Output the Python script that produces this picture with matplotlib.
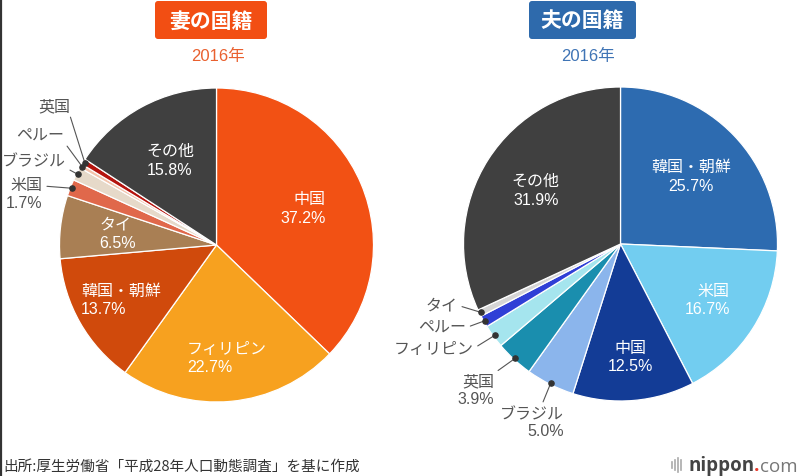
import matplotlib
matplotlib.use('Agg')
import matplotlib.pyplot as plt
from matplotlib.patches import FancyBboxPatch
import numpy as np

plt.rcParams['font.family'] = ['Liberation Sans', 'Noto Sans CJK JP', 'DejaVu Sans']

# ---------------- data ----------------
wife_labels = ['中国', 'フィリピン', '韓国・朝鮮', 'タイ', '米国', 'ブラジル', 'ペルー', '英国', 'その他']
wife_values = [37.2, 22.7, 13.7, 6.5, 1.7, 1.4, 0.4, 0.6, 15.8]

husband_labels = ['韓国・朝鮮', '米国', '中国', 'ブラジル', '英国', 'フィリピン', 'ペルー', 'タイ', 'その他']
husband_values = [25.7, 16.7, 12.5, 5.0, 3.9, 2.4, 1.2, 0.7, 31.9]

wife_title = '妻の国籍'
husband_title = '夫の国籍'
year_text = '2016年'
source_text = '出所:厚生労働省「平成28年人口動態調査」を基に作成'

# ---------------- styles ----------------
wife_colors = ['#f25114', '#f7a11f', '#d04a0c', '#a97f54', '#e0684b',
               '#e6d9c9', '#f3c3ab', '#b5140e', '#404040']
husband_colors = ['#2d6bb0', '#72cdf0', '#133c96', '#8bb5ec', '#1a8eae',
                  '#a5e5ee', '#2f3fd6', '#d5d5d5', '#404040']

# inside labels: (radius fraction, multialignment)
wife_inside = {'中国': (0.60, 'right'), 'フィリピン': (0.72, 'left'),
               '韓国・朝鮮': (0.70, 'left'), 'タイ': (0.635, 'left'),
               'その他': (0.615, 'left')}
husband_inside = {'韓国・朝鮮': (0.625, 'center'), '米国': (0.655, 'right'),
                  '中国': (0.72, 'center'), 'その他': (0.64, 'center')}
# outside labels: (dx px, dy px, ha, va, relpos, show pct)
wife_outside = {'英国': (-14, 57, 'right', 'center', (0.95, 0.0), False),
                'ペルー': (-18, 32, 'right', 'center', (1.0, 0.0), False),
                'ブラジル': (-12, 14, 'right', 'center', (1.0, 0.0), False),
                '米国': (-29, 11, 'right', 'top', (1.0, 0.73), True)}
husband_outside = {'タイ': (-23, 7, 'right', 'center', (1.0, 0.5), False),
                   'ペルー': (-19, -7, 'right', 'center', (1.0, 0.5), False),
                   'フィリピン': (-21, -13, 'right', 'center', (1.0, 0.5), False),
                   '英国': (-21, -15, 'right', 'top', (1.0, 1.0), True),
                   'ブラジル': (13, -23, 'right', 'top', (0.65, 1.0), True)}

W, H = 799, 477
fig = plt.figure(figsize=(W / 100, H / 100), dpi=100)
fig.patch.set_facecolor('white')

# background overlay axes in pixel coordinates
bg = fig.add_axes([0, 0, 1, 1])
bg.set_xlim(0, W)
bg.set_ylim(H, 0)
bg.axis('off')


def draw_pie(cx, cy, r, values, labels, colors, inside, outside):
    ax = fig.add_axes([(cx - r) / W, (H - cy - r) / H, 2 * r / W, 2 * r / H])
    ax.pie(values, colors=colors, startangle=90, counterclock=False, radius=1,
           wedgeprops=dict(edgecolor='white', linewidth=0.9))
    ax.set_xlim(-1, 1)
    ax.set_ylim(-1, 1)
    ax.set_aspect('equal')
    ax.axis('off')
    total = float(sum(values))
    cum = np.cumsum([0] + list(values))
    for i, (lab, v) in enumerate(zip(labels, values)):
        mid = (cum[i] + cum[i + 1]) / 2.0
        th = np.deg2rad(90 - 360 * mid / total)
        pct = f'{v:.1f}%'
        if lab in inside:
            fr, ma = inside[lab]
            ax.text(fr * np.cos(th), fr * np.sin(th), f'{lab}\n{pct}',
                    ha='center', va='center', multialignment=ma,
                    color='white', fontsize=11.5, linespacing=1.3)
        elif lab in outside:
            dx, dy, ha, va, rp, show = outside[lab]
            px, py = 0.99 * np.cos(th), 0.99 * np.sin(th)
            txt = f'{lab}\n{pct}' if show else lab
            ax.annotate(txt, xy=(px, py), xytext=(dx, dy),
                        textcoords='offset pixels', ha=ha, va=va,
                        multialignment='right', color='#555555',
                        fontsize=11.5, linespacing=1.2, annotation_clip=False,
                        arrowprops=dict(arrowstyle='-', color='#555555', lw=0.8,
                                        shrinkA=1, shrinkB=0, relpos=rp))
            ax.scatter([px], [py], s=14, color='#333333', zorder=5, clip_on=False)
    return ax


draw_pie(216.5, 246, 157, wife_values, wife_labels, wife_colors, wife_inside, wife_outside)
draw_pie(620.5, 245, 157, husband_values, husband_labels, husband_colors, husband_inside, husband_outside)

# title boxes
for (x0, x1, col, title, ycol, yx) in [(155, 267, '#f24e13', wife_title, '#e9602f', 217.5),
                                       (529, 636, '#2e6aac', husband_title, '#3f74b5', 587.5)]:
    box = FancyBboxPatch((x0, 2), x1 - x0, 38, boxstyle='round,pad=0,rounding_size=3',
                         facecolor=col, edgecolor='none')
    bg.add_patch(box)
    bg.text((x0 + x1) / 2, 21.5, title, ha='center', va='center', color='white',
            fontsize=15, fontweight='bold')
    bg.text(yx, 56, year_text, ha='center', va='center', color=ycol, fontsize=12)

# source
bg.text(3, 467, source_text, ha='left', va='center', color='#333333', fontsize=10.5,
        family=['Noto Sans CJK JP', 'DejaVu Sans'])

# nippon.com logo
for xx, hh in [(672, 6), (675, 10), (678, 14), (681, 10)]:
    bg.plot([xx, xx], [466 - hh / 2, 466 + hh / 2], color='#aaaaaa', lw=1.2)
t1 = bg.text(688, 466, 'nippon', ha='left', va='center', color='#444444',
             fontsize=13.5, fontweight='bold', family=['Open Sans', 'DejaVu Sans'])
t2 = bg.annotate('.', xy=(1, 0), xycoords=t1, ha='left', va='bottom',
                 color='#e8392b', fontsize=13.5, fontweight='bold',
                 family=['Open Sans', 'DejaVu Sans'])
bg.annotate('com', xy=(1, 0), xycoords=t2, ha='left', va='bottom',
            color='#777777', fontsize=13.5, family=['Open Sans', 'DejaVu Sans'])

# left border line
bg.plot([0.8, 0.8], [0, H], color='#333333', lw=1.6)

fig.savefig('out.png', dpi=100, facecolor='white')
